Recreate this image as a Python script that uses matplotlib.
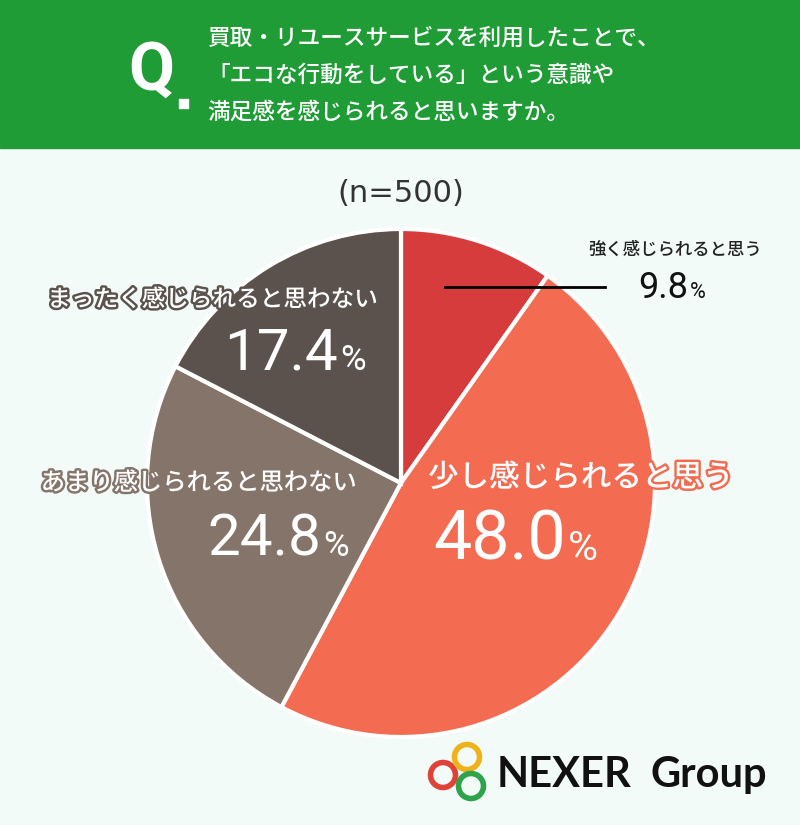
import matplotlib
matplotlib.use("Agg")
import matplotlib.pyplot as plt
import matplotlib.patheffects as pe
from matplotlib.patches import Rectangle, Circle

plt.rcParams['font.family'] = ['Noto Sans CJK JP', 'DejaVu Sans']

# data
labels = ["強く感じられると思う", "少し感じられると思う", "あまり感じられると思わない", "まったく感じられると思わない"]
values = [9.8, 48.0, 24.8, 17.4]
colors = ["#d63c3c", "#f36c52", "#857469", "#5b524d"]
question = ["買取・リユースサービスを利用したことで、",
            "「エコな行動をしている」という意識や",
            "満足感を感じられると思いますか。"]
sample = "(n=500)"

W, H = 800, 825
BG = "#f2fbf8"
GREEN = "#1f9c35"

fig = plt.figure(figsize=(W / 100, H / 100), dpi=100, facecolor=BG)
ax = fig.add_axes([0, 0, 1, 1])


def Y(y):
    # image row -> axes y
    return H - y


# pie
ax.pie(values, colors=colors, startangle=90, counterclock=False,
       center=(401, Y(483)), radius=254, frame=True,
       wedgeprops=dict(edgecolor="white", linewidth=3))
ax.set_xlim(0, W)
ax.set_ylim(0, H)
ax.set_aspect("equal")
ax.axis("off")

# header
ax.add_patch(Rectangle((0, Y(148)), W, 148, color=GREEN, zorder=1))
ax.text(128, Y(72), "Q", color="white", fontsize=48, fontweight="bold",
        family="Roboto", ha="left", va="center", zorder=2)
ax.add_patch(Rectangle((179, Y(108)), 9, 9, color="white", zorder=2))
for i, line in enumerate(question):
    ax.text(207, Y(38 + i * 37), line, color="white", fontsize=16.3,
            fontweight="medium", ha="left", va="center", zorder=2)

ax.text(401, Y(194), sample, color="#333333", fontsize=22,
        family="DejaVu Sans", ha="center", va="center")

num_font = "Roboto"


def pct(xr, y, val, size, color):
    ax.text(xr, Y(y), f"{val:.1f}", color=color, fontsize=size, family=num_font,
            ha="right", va="baseline", zorder=5)
    ax.text(xr + 2, Y(y), "%", color=color, fontsize=size * 0.6, family=num_font,
            ha="left", va="baseline", zorder=5)


def lab(x, y, text, size, color, ha, stroke=None):
    eff = [pe.withStroke(linewidth=3.5, foreground=stroke)] if stroke else None
    ax.text(x, Y(y), text, color=color, fontsize=size, fontweight="medium",
            ha=ha, va="center", path_effects=eff, zorder=5)


# 強く感じられると思う
ax.plot([445, 605], [Y(287), Y(287)], color="black", lw=2, zorder=4)
lab(675, 250, labels[0], 12.5, "#222222", "center")
pct(688, 298, values[0], 26, "#111111")

# 少し感じられると思う
lab(428, 478, labels[1], 22, "white", "left", stroke=colors[1])
pct(566, 560, values[1], 49, "white")

# あまり感じられると思わない
lab(356, 483, labels[2], 17.5, "white", "right", stroke=colors[2])
pct(321, 556, values[2], 42, "white")

# まったく感じられると思わない
lab(378, 300, labels[3], 17, "white", "right", stroke=colors[3])
pct(338, 370, values[3], 42, "white")

# logo
for cx, cy, c in [(443, 775, "#e04237"), (467, 757, "#f0b21b"), (471, 786, "#2ea34a")]:
    ax.add_patch(Circle((cx, Y(cy)), 12.5, fill=False, edgecolor=c, lw=4, zorder=5))
ax.text(497, Y(787), "NEXER", color="#111111", fontsize=30, fontweight="bold",
        family="Lato", ha="left", va="baseline")
ax.text(650, Y(787), "Group", color="#111111", fontsize=30, fontweight="bold",
        family="Lato", ha="left", va="baseline")

fig.savefig("out.png", dpi=100, facecolor=BG)
